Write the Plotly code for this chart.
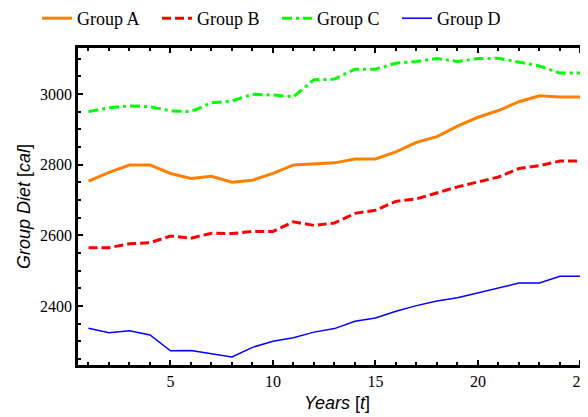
import plotly.graph_objects as go

years = list(range(1, 26))
group_a = [2753, 2778, 2799, 2799, 2775, 2761, 2767, 2750, 2756, 2775, 2799, 2801, 2805,
           2816, 2816, 2836, 2863, 2879, 2909, 2934, 2953, 2978, 2995, 2991, 2991]
group_b = [2565, 2565, 2576, 2579, 2598, 2592, 2606, 2605, 2611, 2611, 2638, 2628, 2635,
           2662, 2671, 2696, 2703, 2720, 2737, 2751, 2765, 2789, 2797, 2810, 2810]
group_c = [2950, 2961, 2966, 2964, 2952, 2950, 2975, 2980, 2999, 2997, 2992, 3040, 3042,
           3070, 3070, 3087, 3092, 3100, 3092, 3100, 3101, 3089, 3079, 3059, 3059]
group_d = [2337, 2324, 2330, 2318, 2273, 2274, 2265, 2256, 2283, 2300, 2310, 2326, 2336,
           2357, 2366, 2385, 2401, 2414, 2423, 2437, 2450, 2465, 2465, 2484, 2484]

names = ["Group A", "Group B", "Group C", "Group D"]
series = [group_a, group_b, group_c, group_d]
styles = [
    dict(color="#FF8000", width=3, dash="solid"),
    dict(color="#FF0000", width=3, dash="9px,4px"),
    dict(color="#00FF00", width=3, dash="10px,4px,3px,4px"),
    dict(color="#0000FF", width=1.5, dash="solid"),
]

fig = go.Figure()
for n, s, st in zip(names, series, styles):
    fig.add_trace(go.Scatter(x=years, y=s, mode="lines", name=n, line=st))

fig.update_layout(
    width=588, height=417,
    margin=dict(l=70, r=0, t=40, b=60, autoexpand=False),
    plot_bgcolor="white", paper_bgcolor="white",
    font=dict(family="Liberation Serif", size=16, color="black"),
    showlegend=True,
    legend=dict(orientation="h", x=-41 / 518, xanchor="left", y=1 + 48 / 317, yanchor="top",
                xref="paper", yref="paper",
                entrywidth=75, entrywidthmode="pixels",
                font=dict(family="Liberation Serif", size=18),
                tracegroupgap=0, bgcolor="rgba(0,0,0,0)"),
)
fig.update_xaxes(
    range=[0.488, 25.76], showgrid=False, zeroline=False, automargin=False,
    showline=True, linewidth=2.5, linecolor="black", mirror="allticks",
    ticks="inside", ticklen=5, tickwidth=1.5, tickcolor="black",
    tickvals=[5, 10, 15, 20, 25],
    minor=dict(ticks="inside", ticklen=3, tickwidth=1.5, dtick=1, tick0=0, tickcolor="black"),
    tickfont=dict(family="Liberation Serif", size=16),
    title=dict(text="<i>Years</i> [<i>t</i>]", font=dict(family="Liberation Sans", size=18), standoff=8),
)
fig.update_yaxes(
    range=[2233, 3130], showgrid=False, zeroline=False, automargin=False,
    showline=True, linewidth=2.5, linecolor="black", mirror=False,
    ticks="inside", ticklen=5, tickwidth=1.5, tickcolor="black",
    tickvals=[2400, 2600, 2800, 3000],
    minor=dict(ticks="inside", ticklen=3, tickwidth=1.5, dtick=50, tick0=0, tickcolor="black"),
    tickfont=dict(family="Liberation Serif", size=16),
    title=dict(text="<i>Group Diet</i> [<i>cal</i>]", font=dict(family="Liberation Sans", size=18), standoff=5),
)

fig.write_html("out.html")
